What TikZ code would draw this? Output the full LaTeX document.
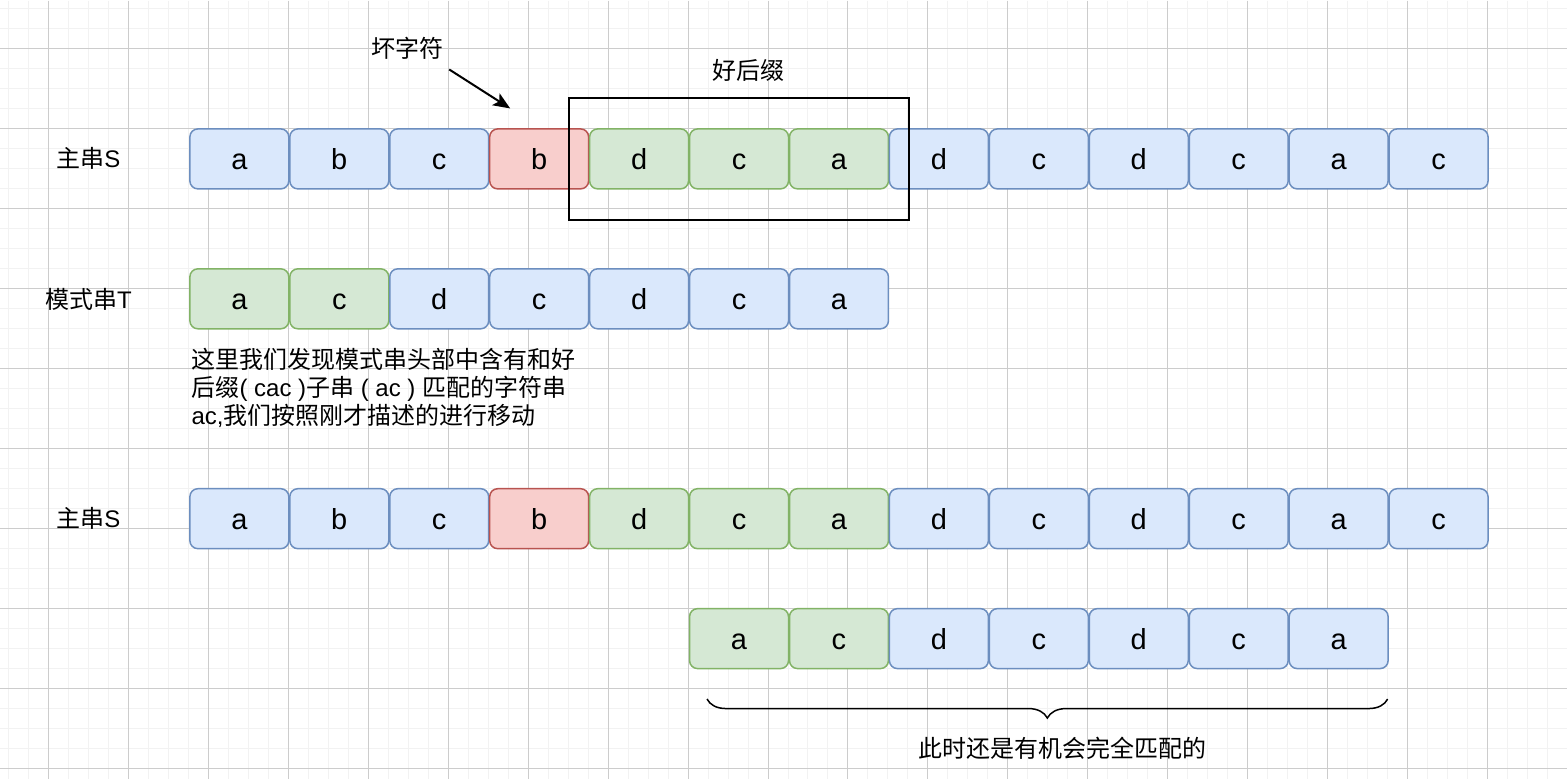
\documentclass[tikz,border=0pt]{standalone}
\usepackage{fontspec}
\setmainfont{Liberation Sans}
\newfontfamily\cjk{Noto Sans CJK SC}
\usepackage{xcolor}
\usetikzlibrary{arrows.meta,fit,decorations.pathreplacing}
\definecolor{bluefill}{HTML}{DAE8FC}
\definecolor{blueline}{HTML}{6C8EBF}
\definecolor{greenfill}{HTML}{D5E8D4}
\definecolor{greenline}{HTML}{82B366}
\definecolor{redfill}{HTML}{F8CECC}
\definecolor{redline}{HTML}{B85450}
\tikzset{
cell/.style={draw, rounded corners=8pt, line width=1.5pt, minimum width=99pt, minimum height=60pt, inner sep=0pt, text height=21pt, text depth=0pt, font={\fontsize{29}{29}\selectfont}},
bluecell/.style={cell, fill=bluefill, draw=blueline},
greencell/.style={cell, fill=greenfill, draw=greenline},
redcell/.style={cell, fill=redfill, draw=redline},
cnlabel/.style={inner sep=0pt, font={\fontsize{24}{28}\selectfont}},
gridminor/.style={draw=black!5, line width=1pt},
gridmajor/.style={draw=black!20, line width=1pt}
}

\begin{document}
\begin{tikzpicture}[x=1pt,y=-1pt]
%grid
\fill[white] (0,0) rectangle (1567,779);
\foreach \g in {8,28,...,1567} \draw[gridminor] (\g,0) -- (\g,779);
\foreach \g in {8,28,...,779} \draw[gridminor] (0,\g) -- (1567,\g);
\foreach \g in {48,128,...,1567} \draw[gridmajor] (\g,0) -- (\g,779);
\foreach \g in {48,128,...,779} \draw[gridmajor] (0,\g) -- (1567,\g);
\useasboundingbox (0,0) rectangle (1567,779);

%main string, first time
\foreach \ch/\sty [count=\i] in {a/bluecell,b/bluecell,c/bluecell,b/redcell,d/greencell,c/greencell,a/greencell,d/bluecell,c/bluecell,d/bluecell,c/bluecell,a/bluecell,c/bluecell}
  \node[\sty] (s\i) at (139+100*\i,158.5) {\ch};

%pattern
\foreach \ch/\sty [count=\i] in {a/greencell,c/greencell,d/bluecell,c/bluecell,d/bluecell,c/bluecell,a/bluecell}
  \node[\sty] (t\i) at (139+100*\i,298.5) {\ch};

%main string, second time
\foreach \ch/\sty [count=\i] in {a/bluecell,b/bluecell,c/bluecell,b/redcell,d/greencell,c/greencell,a/greencell,d/bluecell,c/bluecell,d/bluecell,c/bluecell,a/bluecell,c/bluecell}
  \node[\sty] (m\i) at (139+100*\i,518.5) {\ch};

%pattern moved
\foreach \ch/\sty [count=\i] in {a/greencell,c/greencell,d/bluecell,c/bluecell,d/bluecell,c/bluecell,a/bluecell}
  \node[\sty] (p\i) at (639+100*\i,638.5) {\ch};

\node[cnlabel] (lblS) at (88,158) {{\cjk 主串}S};
\node[cnlabel] (lblT) at (88,299) {{\cjk 模式串}T};
\node[cnlabel] (lblM) at (88,518) {{\cjk 主串}S};

%good suffix
\node[draw, line width=2pt, inner xsep=20pt, inner ysep=30pt, fit=(s5)(s7)] (suffix) {};
\node[cnlabel] (good) at (748,70) {\cjk 好后缀};

%bad character
\node[cnlabel] (bad) at (407,48) {\cjk 坏字符};
\coordinate (badtail) at (449,69);
\coordinate (badtip) at (510,108);
\draw[line width=2pt,-{Stealth[length=17pt,width=14pt,inset=4pt]}] (badtail) -- (badtip);

\node[cnlabel, align=left, anchor=north west] (note) at (191,348) {{\cjk 这里我们发现模式串头部中含有和好}\\{\cjk 后缀}( cac ){\cjk 子串} ( ac ) {\cjk 匹配的字符串}\\ac,{\cjk 我们按照刚才描述的进行移动}};

%brace
\coordinate (bl) at (707,699);
\coordinate (br) at (1388,699);
\draw[line width=1.5pt, decorate, decoration={brace, amplitude=19pt, mirror}] (bl) -- (br);
\node[cnlabel] (remark) at (1063,748) {\cjk 此时还是有机会完全匹配的};

\end{tikzpicture}
\end{document}
